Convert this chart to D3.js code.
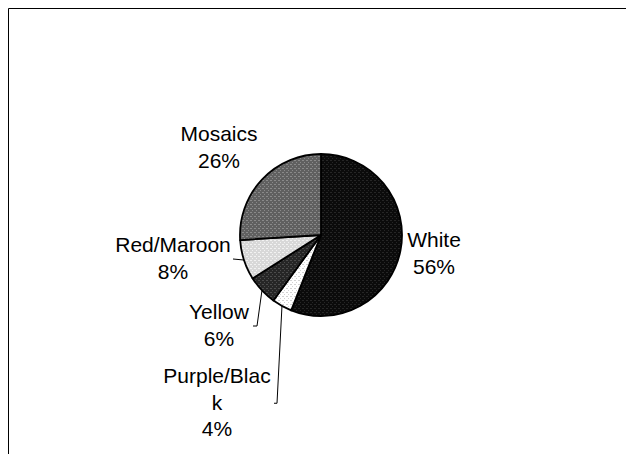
<!DOCTYPE html>
<html>
<head>
<meta charset="utf-8">
<script src="https://cdn.jsdelivr.net/npm/d3@7/dist/d3.min.js"></script>
<style>
  html, body { margin: 0; padding: 0; background: #fff; }
  svg { display: block; }
  text { font-family: "Liberation Sans", Arial, sans-serif; font-size: 21px; fill: #000; }
</style>
</head>
<body>
<script>
// Share of each colour class, clockwise from 12 o'clock
const categories = ["White", "Purple/Black", "Yellow", "Red/Maroon", "Mosaics"];
const shares = [56, 4, 6, 8, 26];
const labelLines = [["White", "56%"], ["Purple/Blac", "k", "4%"], ["Yellow", "6%"], ["Red/Maroon", "8%"], ["Mosaics", "26%"]];

// Layout: label centres (first baseline) and leader hooks
const W = 626, H = 454;
const cx = 321, cy = 235, R = 81;
const lineH = 26.5;
const labelAt = [
  { x: 434, y: 247, leader: null },
  { x: 217, y: 383, leader: { x: 277, hook: 3 } },
  { x: 219, y: 319, leader: { x: 257, hook: 4 } },
  { x: 173, y: 252, leader: { x: 233, hook: 0 } },
  { x: 219, y: 141, leader: null }
];
// Fill textures: base tone + dot tone
const textures = [
  { base: "#0b0b0b", dot: "#262626" },
  { base: "#ffffff", dot: "#d2d2d2" },
  { base: "#262626", dot: "#4c4c4c" },
  { base: "#d8d8d8", dot: "#f2f2f2" },
  { base: "#606060", dot: "#8a8a8a" }
];

const svg = d3.select("body").append("svg").attr("width", W).attr("height", H);
const defs = svg.append("defs");
textures.forEach((t, i) => {
  const p = defs.append("pattern").attr("id", "tex" + i)
    .attr("patternUnits", "userSpaceOnUse").attr("width", 4).attr("height", 4);
  p.append("rect").attr("width", 4).attr("height", 4).attr("fill", t.base);
  p.append("rect").attr("x", 1).attr("y", 1).attr("width", 2).attr("height", 1).attr("fill", t.dot);
  p.append("rect").attr("x", 3).attr("y", 3).attr("width", 1).attr("height", 1).attr("fill", t.dot);
});

// Chart frame (top and left edges visible)
svg.append("path")
  .attr("d", `M8.5,${H} V8.5 H${W}`)
  .attr("fill", "none").attr("stroke", "#000").attr("stroke-width", 1);

const pie = d3.pie().sort(null).value(d => d)(shares);
const arc = d3.arc().innerRadius(0).outerRadius(R);

const g = svg.append("g").attr("transform", `translate(${cx},${cy})`);
g.selectAll("path.slice").data(pie).join("path")
  .attr("class", "slice")
  .attr("d", arc)
  .attr("fill", (d, i) => `url(#tex${i})`)
  .attr("stroke", "#000").attr("stroke-width", 1.8).attr("stroke-linejoin", "round");

// Labels
pie.forEach((d, i) => {
  const L = labelAt[i];
  const lines = labelLines[i];
  const t = svg.append("text").attr("text-anchor", "middle");
  lines.forEach((s, k) => {
    t.append("tspan").attr("x", L.x).attr("y", L.y + k * lineH).text(s);
  });
  if (L.leader) {
    const mid = (d.startAngle + d.endAngle) / 2;
    const ex = cx + R * Math.sin(mid), ey = cy - R * Math.cos(mid);
    const by = L.y - 19 + (lines.length * lineH + 6 - 7) / 2;
    const pts = [[L.leader.x - L.leader.hook, by], [L.leader.x, by], [ex, ey]];
    svg.append("path")
      .attr("d", d3.line()(pts))
      .attr("fill", "none").attr("stroke", "#000").attr("stroke-width", 1);
  }
});
</script>
</body>
</html>
